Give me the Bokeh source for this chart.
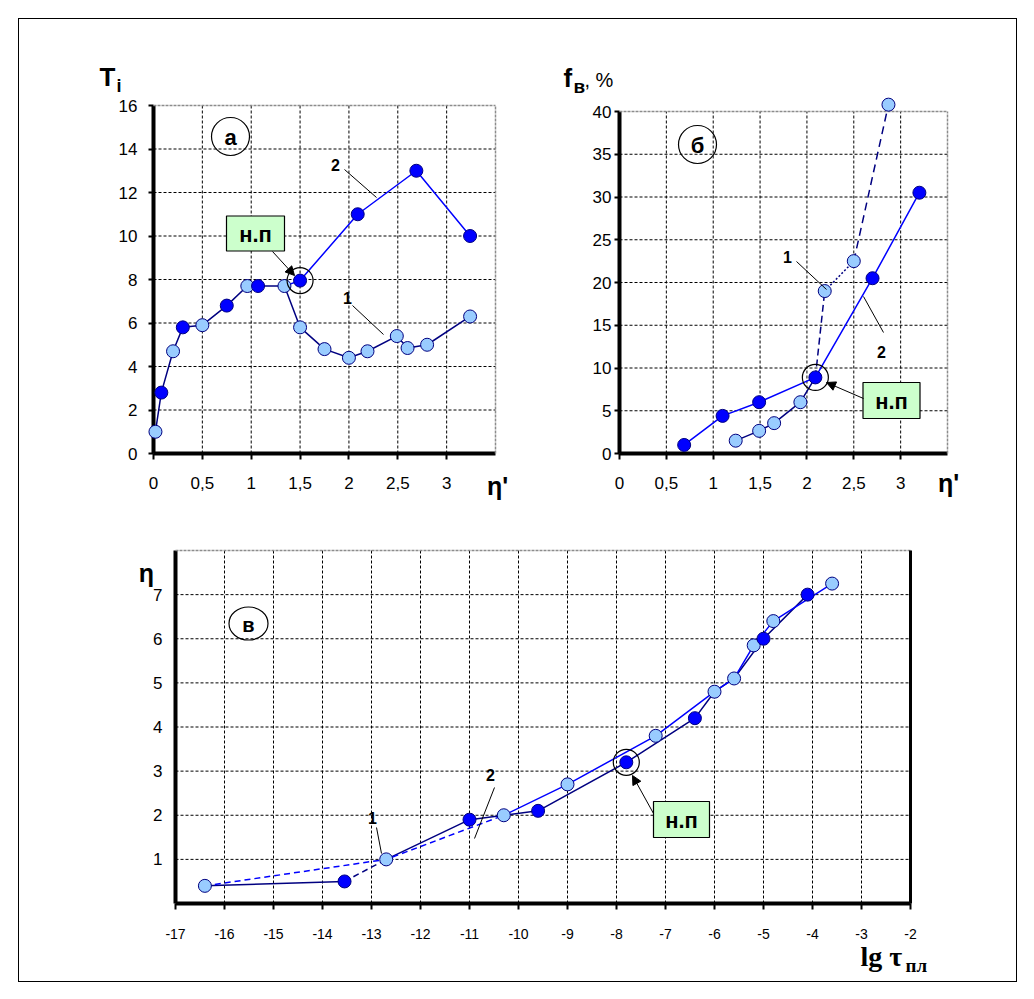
from bokeh.plotting import figure
from bokeh.models import (FixedTicker, CustomJSTickFormatter, Label, Arrow,
                          NormalHead, Range1d)
from bokeh.layouts import column, row
from bokeh.embed import file_html
from bokeh.resources import INLINE

# ---------------- data ----------------
# panel а : T_i against η'
A_X_TICKS = [0, 0.5, 1, 1.5, 2, 2.5, 3]
A_Y_TICKS = [0, 2, 4, 6, 8, 10, 12, 14, 16]
A_LIGHT_X = [0.02, 0.2, 0.5, 0.96, 1.34, 1.5, 1.75, 2.0, 2.19, 2.49, 2.6, 2.8, 3.24]
A_LIGHT_Y = [1.0, 4.7, 5.9, 7.7, 7.7, 5.8, 4.8, 4.4, 4.7, 5.4, 4.85, 5.0, 6.3]
A_DARK_X = [0.08, 0.3, 0.75, 1.07, 1.5, 2.09, 2.69, 3.24]
A_DARK_Y = [2.8, 5.8, 6.8, 7.7, 7.95, 11.0, 13.0, 10.0]

# panel б : f_в, % against η'
B_X_TICKS = [0, 0.5, 1, 1.5, 2, 2.5, 3]
B_Y_TICKS = [0, 5, 10, 15, 20, 25, 30, 35, 40]
B_LIGHT_X = [1.24, 1.49, 1.65, 1.93, 2.19, 2.5, 2.87]
B_LIGHT_Y = [1.5, 2.65, 3.55, 6.0, 19.0, 22.5, 40.8]
B_DARK_X = [0.69, 1.1, 1.49, 2.09, 2.7, 3.2]
B_DARK_Y = [1.0, 4.4, 6.0, 8.9, 20.5, 30.5]

# panel в : η against lg τ_пл
C_X_TICKS = list(range(-17, -1))
C_Y_TICKS = [1, 2, 3, 4, 5, 6, 7]
C_LIGHT_X = [-16.4, -12.7, -10.3, -9.0, -7.2, -6.0, -5.6, -5.2, -4.8, -3.6]
C_LIGHT_Y = [0.4, 1.0, 2.0, 2.7, 3.8, 4.8, 5.1, 5.85, 6.4, 7.25]
C_DARK_X = [-13.55, -11.0, -9.6, -7.8, -6.4, -5.0, -4.1]
C_DARK_Y = [0.5, 1.9, 2.1, 3.2, 4.2, 6.0, 7.0]

# ---------------- styles ----------------
LIGHT = "#99ccff"
DARK = "#0000ff"
NAVY = "#000080"
BORDER_GREY = "#8c8c8c"
GRID_DASH = "3 2"
SANS = "Liberation Sans"
SERIF = "Liberation Serif"

# page position (px) of each plotting area and the data box it spans
GEO_A = dict(x0=153, x1=495, yb=453, yt=105, xr=(0, 3.5), yr=(0, 16))
GEO_B = dict(x0=619, x1=947, yb=453, yt=111, xr=(0, 3.5), yr=(0, 40))
GEO_C = dict(x0=175, x1=910, yb=903, yt=550, xr=(-17, -2), yr=(0, 8))

# page rectangles (left, top, right, bottom) of the three canvases
ORIGIN = 19
SPLIT = 510
RECT_A = (ORIGIN, ORIGIN, 540, SPLIT)
RECT_B = (540, ORIGIN, 1016, SPLIT)
RECT_C = (ORIGIN, SPLIT, 1016, 981)


def to_data(g, px, py):
    x = g["xr"][0] + (px - g["x0"]) / (g["x1"] - g["x0"]) * (g["xr"][1] - g["xr"][0])
    y = g["yr"][0] + (g["yb"] - py) / (g["yb"] - g["yt"]) * (g["yr"][1] - g["yr"][0])
    return x, y


def make_fig(g, rect):
    left, top, right, bottom = rect
    x_start, y_end = to_data(g, left, top)
    x_end, y_start = to_data(g, right, bottom)
    p = figure(width=right - left, height=bottom - top,
               x_range=Range1d(x_start, x_end), y_range=Range1d(y_start, y_end),
               output_backend="svg", toolbar_location=None, min_border=0)
    p.background_fill_color = "white"
    p.border_fill_color = "white"
    p.outline_line_color = None
    p.grid.visible = False
    return p


def lab(p, g, px, py, text, size, bold=True, align="left", font=SANS):
    # (px, py) is the vertical middle of the text line
    x, y = to_data(g, px, py)
    p.add_layout(Label(x=x, y=y, text=text, text_font=font,
                       text_font_size=f"{size}px",
                       text_font_style="bold" if bold else "normal",
                       text_align=align, text_baseline="middle",
                       text_color="black"))


def leader(p, g, p0, p1):
    x0, y0 = to_data(g, *p0)
    x1, y1 = to_data(g, *p1)
    p.segment(x0=[x0], y0=[y0], x1=[x1], y1=[y1], line_color="black", line_width=1)


def arrow(p, g, p0, p1):
    x0, y0 = to_data(g, *p0)
    x1, y1 = to_data(g, *p1)
    p.add_layout(Arrow(end=NormalHead(size=9, fill_color="black", line_color="black"),
                       x_start=x0, y_start=y0, x_end=x1, y_end=y1,
                       line_color="black", line_width=1))


def tag_box(p, g, cx, cy, w, h, text, size):
    x, y = to_data(g, cx, cy)
    p.rect(x=[x], y=[y], width=w, height=h, width_units="screen",
           height_units="screen", fill_color="#ccffcc", line_color="black",
           line_width=1.2)
    lab(p, g, cx, cy + 1, text, size, align="center")


def panel_letter(p, g, cx, cy, text, size, w=38, h=38):
    x, y = to_data(g, cx, cy)
    p.ellipse(x=[x], y=[y], width=w, height=h, width_units="screen",
              height_units="screen", fill_color=None, line_color="black",
              line_width=1.2)
    lab(p, g, cx, cy + 1, text, size, align="center")


def ring(p, x, y):
    p.scatter(x=[x], y=[y], size=26, marker="circle", fill_color=None,
              line_color="black", line_width=1.2)


def style_axes(p, g, xticks, yticks, xfont, yfont, ystand, ytick_out, xstand=17):
    fmt = CustomJSTickFormatter(code="return String(tick).replace('.', ',');")
    p.xaxis[0].fixed_location = g["yr"][0]
    p.yaxis[0].fixed_location = g["xr"][0]
    p.xaxis[0].bounds = g["xr"]
    p.yaxis[0].bounds = g["yr"]
    for ax, ticks, fs, st, out in ((p.xaxis[0], xticks, xfont, xstand, 6),
                                   (p.yaxis[0], yticks, yfont, ystand, ytick_out)):
        ax.level = "underlay"          # markers sit on top of the axis lines
        ax.ticker = FixedTicker(ticks=ticks)
        ax.formatter = fmt
        ax.axis_line_width = 4
        ax.axis_line_color = "black"
        ax.major_tick_line_width = 2
        ax.major_tick_line_color = "black"
        ax.major_tick_out = out
        ax.major_tick_in = 0
        ax.minor_tick_out = 0
        ax.minor_tick_in = 0
        ax.major_label_text_font = SANS
        ax.major_label_text_font_size = f"{fs}px"
        ax.major_label_text_color = "black"
        ax.major_label_standoff = st


def grid_lines(p, g, xs, ys):
    (xa, xb), (ya, yb) = g["xr"], g["yr"]
    p.segment(x0=xs, y0=[ya] * len(xs), x1=xs, y1=[yb] * len(xs),
              line_color="black", line_dash=GRID_DASH, line_width=1)
    p.segment(x0=[xa] * len(ys), y0=ys, x1=[xb] * len(ys), y1=ys,
              line_color="black", line_dash=GRID_DASH, line_width=1)


def frame_edges(p, g, right_color=BORDER_GREY, right_dash="3 1", right_width=1.5):
    (xa, xb), (ya, yb) = g["xr"], g["yr"]
    p.segment(x0=[xa], y0=[yb], x1=[xb], y1=[yb], line_color=BORDER_GREY,
              line_dash="3 1", line_width=1.5)
    p.segment(x0=[xb], y0=[ya], x1=[xb], y1=[yb], line_color=right_color,
              line_dash=right_dash, line_width=right_width)


def markers(p, xs, ys, fill):
    p.scatter(x=xs, y=ys, size=13, marker="circle", fill_color=fill,
              line_color=NAVY, line_width=1)


# ---------------- panel а ----------------
pa = make_fig(GEO_A, RECT_A)
style_axes(pa, GEO_A, A_X_TICKS, A_Y_TICKS, 17, 17, 11, 5)
grid_lines(pa, GEO_A, A_X_TICKS[1:], A_Y_TICKS[1:-1])
frame_edges(pa, GEO_A)

# common rising part (both series) and the lower branch of series 1
merged = sorted(list(zip(A_LIGHT_X[:5], A_LIGHT_Y[:5])) + list(zip(A_DARK_X[:4], A_DARK_Y[:4])))
navy_x = [m[0] for m in merged] + A_LIGHT_X[5:]
navy_y = [m[1] for m in merged] + A_LIGHT_Y[5:]
pa.line(navy_x, navy_y, line_color=NAVY, line_width=1.5)
# upper branch of series 2
pa.line([A_LIGHT_X[4]] + A_DARK_X[4:], [A_LIGHT_Y[4]] + A_DARK_Y[4:],
        line_color=DARK, line_width=1.5)
markers(pa, A_LIGHT_X, A_LIGHT_Y, LIGHT)
markers(pa, A_DARK_X, A_DARK_Y, DARK)
ring(pa, A_DARK_X[4], A_DARK_Y[4])

panel_letter(pa, GEO_A, 230, 136, "а", 22)
lab(pa, GEO_A, 335, 164, "2", 16, align="center")
leader(pa, GEO_A, (344, 169), (376, 197))
lab(pa, GEO_A, 347, 297, "1", 16, align="center")
leader(pa, GEO_A, (352, 305), (383, 334))
tag_box(pa, GEO_A, 255, 233, 58, 35, "н.п", 22)
arrow(pa, GEO_A, (272, 251), (294, 275))

lab(pa, GEO_A, 99, 76, "T", 26)
lab(pa, GEO_A, 116, 85, "i", 18)
lab(pa, GEO_A, 497, 485, "η'", 25, align="center")

# ---------------- panel б ----------------
pb = make_fig(GEO_B, RECT_B)
style_axes(pb, GEO_B, B_X_TICKS, B_Y_TICKS, 17, 17, 3, 5)
grid_lines(pb, GEO_B, B_X_TICKS[1:], B_Y_TICKS[1:-1])
frame_edges(pb, GEO_B)

pb.line(B_DARK_X, B_DARK_Y, line_color=DARK, line_width=1.5)
pb.line(B_LIGHT_X[:4] + [B_DARK_X[3]], B_LIGHT_Y[:4] + [B_DARK_Y[3]],
        line_color=NAVY, line_width=1.5)
pb.line([B_DARK_X[3], B_LIGHT_X[4]], [B_DARK_Y[3], B_LIGHT_Y[4]],
        line_color=NAVY, line_width=1.5, line_dash="7 4")
pb.line(B_LIGHT_X[4:6], B_LIGHT_Y[4:6], line_color=NAVY, line_width=1.5, line_dash="2 2")
pb.line(B_LIGHT_X[5:7], B_LIGHT_Y[5:7], line_color=NAVY, line_width=1.5, line_dash="8 5")
markers(pb, B_LIGHT_X, B_LIGHT_Y, LIGHT)
markers(pb, B_DARK_X, B_DARK_Y, DARK)
ring(pb, B_DARK_X[3], B_DARK_Y[3])

panel_letter(pb, GEO_B, 697, 144, "б", 22)
lab(pb, GEO_B, 787, 256, "1", 16, align="center")
leader(pb, GEO_B, (796, 261), (826, 289))
lab(pb, GEO_B, 881, 351, "2", 16, align="center")
leader(pb, GEO_B, (883, 332), (863, 296))
tag_box(pb, GEO_B, 891, 400, 57, 36, "н.п", 22)
arrow(pb, GEO_B, (863, 398), (826, 382))

lab(pb, GEO_B, 563, 77, "f", 26)
lab(pb, GEO_B, 573, 86, "в", 19)
lab(pb, GEO_B, 584, 79, ", %", 20, bold=False)
lab(pb, GEO_B, 948, 482, "η'", 25, align="center")

# ---------------- panel в ----------------
pc = make_fig(GEO_C, RECT_C)
style_axes(pc, GEO_C, C_X_TICKS, C_Y_TICKS, 14, 17, 13, 0, xstand=19)
grid_lines(pc, GEO_C, C_X_TICKS[1:-1], C_Y_TICKS)
frame_edges(pc, GEO_C, right_color="black", right_dash="solid", right_width=3)

# series 2 (dark)
pc.line([C_LIGHT_X[0], C_DARK_X[0]], [C_LIGHT_Y[0], C_DARK_Y[0]],
        line_color=NAVY, line_width=1.5)
pc.line([C_DARK_X[0], C_LIGHT_X[1]], [C_DARK_Y[0], C_LIGHT_Y[1]],
        line_color=NAVY, line_width=1.5, line_dash="6 4")
navy2_x = [C_LIGHT_X[1]] + C_DARK_X[1:5] + C_LIGHT_X[5:7] + C_DARK_X[5:]
navy2_y = [C_LIGHT_Y[1]] + C_DARK_Y[1:5] + C_LIGHT_Y[5:7] + C_DARK_Y[5:]
pc.line(navy2_x, navy2_y, line_color=NAVY, line_width=1.5)
# series 1 (light)
pc.line(C_LIGHT_X[:3], C_LIGHT_Y[:3], line_color=DARK, line_width=1.5, line_dash="6 4")
pc.line(C_LIGHT_X[2:], C_LIGHT_Y[2:], line_color=DARK, line_width=1.5)
markers(pc, C_LIGHT_X, C_LIGHT_Y, LIGHT)
markers(pc, C_DARK_X, C_DARK_Y, DARK)
ring(pc, C_DARK_X[3], C_DARK_Y[3])

panel_letter(pc, GEO_C, 248, 623, "в", 20, w=39, h=33)
lab(pc, GEO_C, 490, 774, "2", 16, align="center")
leader(pc, GEO_C, (494, 787), (474, 838))
lab(pc, GEO_C, 372, 817, "1", 16, align="center")
leader(pc, GEO_C, (376, 827), (381, 853))
tag_box(pc, GEO_C, 681, 819, 56, 36, "н.п", 22)
arrow(pc, GEO_C, (653, 813), (632, 775))

lab(pc, GEO_C, 146, 572, "η", 25, align="center")
lab(pc, GEO_C, 860, 956, "lg τ", 28, font=SERIF)
lab(pc, GEO_C, 905, 965, "пл", 19, font=SERIF)

page = column(row(pa, pb), pc, margin=(18, 0, 0, 18),
              styles={"border": "1px solid black"})

open("out.html", "w").write(file_html(page, INLINE))
